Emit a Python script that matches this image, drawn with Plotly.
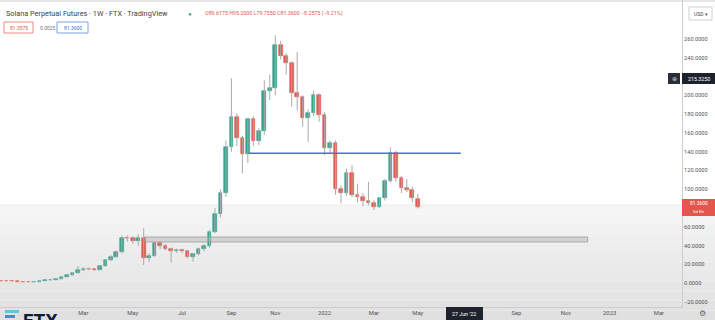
import plotly.graph_objects as go
import pandas as pd

# ---------------- data (weekly SOL-PERP candles) ----------------
week_start = pd.date_range("2020-11-16", "2022-05-02", freq="7D")

opens = [2.6, 2.4, 2.1, 2.0, 1.7, 1.6, 1.5, 1.7, 2.9, 3.4, 3.6, 4.5, 6.4, 8.8, 11.3,
         14.5, 15.2, 14.8, 14.2, 18.4, 24.8, 28.5, 33.6, 48.5, 47.8, 45.5, 48.0, 26.6, 29.4,
         42.5, 40.0, 37.0, 34.0, 35.5, 34.5, 28.3, 31.0, 37.0, 40.0, 55.0, 74.0, 95.7, 144.7,
         176.6, 155.0, 137.5, 174.5, 151.7, 162.0, 204.6, 208.0, 253.5, 241.8, 234.0, 202.8,
         198.5, 175.5, 181.5, 200.0, 179.0, 143.6, 149.6, 100.0, 96.0, 117.0, 94.0, 92.0,
         88.0, 85.7, 81.5, 90.4, 109.0, 138.3, 111.7, 101.0, 99.0, 89.6175]
highs = [2.9, 2.7, 2.4, 2.1, 1.9, 1.7, 1.8, 3.1, 3.8, 3.9, 4.8, 6.6, 9.3, 11.8, 18.4,
         17.0, 16.5, 16.0, 19.5, 25.5, 30.0, 35.0, 50.5, 51.0, 50.0, 52.0, 58.5, 32.0, 44.0,
         45.0, 42.0, 38.0, 37.0, 37.0, 35.0, 32.0, 38.0, 42.0, 57.0, 80.0, 100.0, 152.0, 218.0,
         181.0, 157.0, 176.0, 178.0, 165.0, 216.0, 222.0, 264.0, 258.0, 245.0, 236.0, 246.0,
         200.0, 185.0, 205.0, 202.0, 182.0, 152.0, 152.0, 104.0, 122.0, 126.0, 106.0, 96.0,
         108.0, 89.0, 92.0, 111.0, 144.7, 141.0, 114.0, 111.0, 103.0, 95.2]
lows = [2.2, 1.9, 1.8, 1.6, 1.5, 1.3, 1.4, 1.6, 2.8, 3.0, 3.4, 4.2, 6.0, 8.2, 10.5,
        13.2, 13.8, 13.5, 13.8, 17.5, 23.5, 27.0, 32.0, 44.0, 42.0, 40.0, 19.5, 22.5, 28.5,
        36.0, 35.0, 22.0, 32.5, 32.0, 27.0, 23.0, 29.5, 34.0, 38.0, 53.0, 70.0, 92.0, 140.0,
        146.0, 117.0, 128.0, 146.0, 147.0, 158.0, 195.0, 200.0, 238.0, 222.0, 188.0, 184.0,
        166.6, 150.6, 178.0, 172.0, 136.5, 138.0, 94.0, 85.0, 93.0, 92.0, 86.0, 82.0,
        83.0, 78.0, 80.0, 88.0, 107.0, 108.0, 96.0, 97.0, 86.0, 79.755]
closes = [2.4, 2.1, 2.0, 1.7, 1.6, 1.5, 1.7, 2.9, 3.4, 3.6, 4.5, 6.4, 8.8, 11.3, 14.5,
          15.2, 14.8, 14.2, 18.4, 24.8, 28.5, 33.6, 48.5, 47.8, 45.5, 48.0, 26.6, 29.4, 42.5,
          40.0, 37.0, 34.0, 35.5, 34.5, 28.3, 31.0, 37.0, 40.0, 55.0, 74.0, 95.7, 144.7, 176.6,
          155.0, 137.5, 174.5, 151.7, 162.0, 204.6, 208.0, 253.5, 241.8, 234.0, 202.8, 198.5,
          175.5, 181.5, 200.0, 179.0, 143.6, 149.6, 100.0, 96.0, 117.0, 94.0, 92.0, 88.0,
          85.7, 81.5, 90.4, 109.0, 138.3, 111.7, 101.0, 99.0, 90.5, 81.36]

x_tick_dates = ["2021-03-01", "2021-05-03", "2021-07-05", "2021-09-06", "2021-11-01",
                "2022-01-03", "2022-03-07", "2022-05-02", "2022-09-05", "2022-11-07",
                "2023-01-02", "2023-03-06"]
x_tick_text = ["Mar", "May", "Jul", "Sep", "Nov", "2022", "Mar", "May", "Sep", "Nov",
               "2023", "Mar"]
# 80 and 220 are hidden behind the last-price and crosshair tags in the reference
y_tick_vals = [-20, 0, 20, 40, 60, 100, 120, 140, 160, 180, 200, 240, 260]

support_level = 138.3
support_span = ["2021-09-28", "2022-06-26"]
zone_bounds = [43.9, 49.3]
zone_span = ["2021-05-18", "2022-12-05"]

title_text = "Solana Perpetual Futures · 1W · FTX · TradingView"
ohlc_text = "O89.6175 H95.2000 L79.7550 C81.3600 −8.2575 (−9.21%)"
bid_text, spread_text, ask_text = "81.3575", "0.0025", "81.3600"
last_price_text, countdown_text = "81.3600", "5d 6h"
cross_price_text, cross_date_text = "215.3250", "27 Jun '22"

# ---------------- styling ----------------
W, H = 715, 320
PLOT_R, PLOT_B = 682, 307          # plot area right / bottom edge in px
GREEN, RED, WICK = "#3aa38e", "#e2594d", "#a9a9a9"
FONT = "Roboto"


def px(xp):
    return xp / PLOT_R


def py(yp):
    return (PLOT_B - yp) / PLOT_B


fig = go.Figure()

# wicks
wx, wy = [], []
for d, h, l in zip(week_start, highs, lows):
    wx += [d, d, None]
    wy += [l, h, None]
fig.add_trace(go.Scatter(x=wx, y=wy, mode="lines", line=dict(color=WICK, width=1),
                         hoverinfo="skip", showlegend=False))

# bodies
cols = [GREEN if c >= o else RED for o, c in zip(opens, closes)]
fig.add_trace(go.Bar(
    x=week_start,
    y=[abs(c - o) for o, c in zip(opens, closes)],
    base=[min(o, c) for o, c in zip(opens, closes)],
    width=4.6 * 86400000,
    marker=dict(color=cols, line=dict(color=cols, width=0.6)),
    showlegend=False, hoverinfo="skip"))

shapes = []
# background gradient (lower part of the frame)
top_c, bot_c = (245, 245, 245), (224, 224, 224)
n = 12
y0p, y1p = 205, 320
for i in range(n):
    t = i / (n - 1)
    c = tuple(int(round(top_c[k] + (bot_c[k] - top_c[k]) * t)) for k in range(3))
    a = y0p + (y1p - y0p) * i / n
    b = y0p + (y1p - y0p) * (i + 1) / n
    shapes.append(dict(type="rect", xref="paper", yref="paper", x0=px(0), x1=px(W),
                       y0=py(b), y1=py(a), fillcolor="rgb(%d,%d,%d)" % c,
                       line=dict(width=0), layer="below"))
shapes.append(dict(type="line", xref="paper", yref="paper", x0=0, x1=px(W),
                   y0=py(205), y1=py(205), line=dict(color="#ececec", width=1), layer="below"))
# thin top frame line
shapes.append(dict(type="rect", xref="paper", yref="paper", x0=0, x1=px(W),
                   y0=py(2), y1=py(0), fillcolor="#e6e6e6", line=dict(width=0), layer="below"))

# horizontal zone and support line
shapes.append(dict(type="rect", xref="x", yref="y", x0=zone_span[0], x1=zone_span[1],
                   y0=zone_bounds[0], y1=zone_bounds[1],
                   fillcolor="rgba(175,175,175,0.45)",
                   line=dict(color="rgba(150,150,150,0.7)", width=1), layer="above"))
shapes.append(dict(type="line", xref="x", yref="y", x0=support_span[0], x1=support_span[1],
                   y0=support_level, y1=support_level,
                   line=dict(color="#4a6ee0", width=1.5), layer="above"))

# price axis tags
shapes.append(dict(type="rect", xref="paper", yref="paper", x0=px(682), x1=px(715),
                   y0=py(216), y1=py(199), fillcolor="#e2574c", line=dict(width=0)))
shapes.append(dict(type="rect", xref="paper", yref="paper", x0=px(682), x1=px(715),
                   y0=py(84), y1=py(73), fillcolor="#1e222d", line=dict(width=0)))
shapes.append(dict(type="rect", xref="paper", yref="paper", x0=px(668), x1=px(680),
                   y0=py(84), y1=py(73), fillcolor="#2a2e39", line=dict(width=0)))
shapes.append(dict(type="rect", xref="paper", yref="paper", x0=px(446), x1=px(483),
                   y0=py(320), y1=py(307), fillcolor="#1e222d", line=dict(width=0)))
# header boxes
shapes.append(dict(type="rect", xref="paper", yref="paper", x0=px(4), x1=px(33),
                   y0=py(33), y1=py(22), fillcolor="white", line=dict(color="#e88c85", width=1)))
shapes.append(dict(type="rect", xref="paper", yref="paper", x0=px(57), x1=px(88),
                   y0=py(33), y1=py(22), fillcolor="white", line=dict(color="#7ea2e3", width=1)))
shapes.append(dict(type="rect", xref="paper", yref="paper", x0=px(689), x1=px(712),
                   y0=py(20), y1=py(7), fillcolor="white", line=dict(color="#cfcfcf", width=1)))
# FTX logo stripes
shapes.append(dict(type="rect", xref="paper", yref="paper", x0=px(5), x1=px(19),
                   y0=py(313), y1=py(310), fillcolor="#5ec8e0", line=dict(width=0)))
shapes.append(dict(type="rect", xref="paper", yref="paper", x0=px(5), x1=px(15),
                   y0=py(318), y1=py(315), fillcolor="#3b8fd6", line=dict(width=0)))

ann = []


def text(x, y, s, size, color, xanchor="left", bold=False, yanchor="middle"):
    ann.append(dict(xref="paper", yref="paper", x=px(x), y=py(y), text=("<b>%s</b>" % s) if bold else s,
                    showarrow=False, xanchor=xanchor, yanchor=yanchor,
                    font=dict(family=FONT, size=size, color=color)))


text(4, 13, title_text, 7.3, "#3c3f48")
text(190, 13, "●", 6, "#26a69a", xanchor="center")
text(203, 13, ohlc_text, 5.3, "#e0574a")
text(18.5, 27.5, bid_text, 5.0, "#e0574a", xanchor="center")
text(38, 27.5, spread_text, 5.0, "#777777")
text(72.5, 27.5, ask_text, 5.0, "#3f73d0", xanchor="center")
text(700.5, 13.5, "USD ▾", 5.0, "#444444", xanchor="center")
text(698.5, 203.3, last_price_text, 4.9, "white", xanchor="center")
text(698.5, 211.6, countdown_text, 4.4, "white", xanchor="center")
text(698.5, 78.5, cross_price_text, 5.3, "white", xanchor="center")
text(674, 78.5, "⊕", 6, "#cfd2da", xanchor="center")
text(464.5, 313.5, cross_date_text, 5.3, "white", xanchor="center")
text(702, 313, "⚙", 8, "#666666", xanchor="center")
text(21, 307, "FTX", 19, "#0f1c38", bold=True, yanchor="top")

fig.update_layout(
    width=W, height=H,
    margin=dict(l=0, r=W - PLOT_R, t=0, b=H - PLOT_B),
    paper_bgcolor="white", plot_bgcolor="rgba(0,0,0,0)",
    showlegend=False, bargap=0,
    shapes=shapes, annotations=ann,
    font=dict(family=FONT),
    xaxis=dict(type="date", range=["2020-11-14 12:00", "2023-04-04 10:00"],
               tickvals=x_tick_dates, ticktext=x_tick_text,
               tickfont=dict(size=5.8, color="#555555"), ticks="", showgrid=False,
               zeroline=False, showline=True, linecolor="#cdcdcd", linewidth=1,
               rangeslider=dict(visible=False), fixedrange=True),
    yaxis=dict(side="right", range=[-25.2, 301.4], tickvals=y_tick_vals,
               tickformat=".4f", tickfont=dict(size=5.6, color="#555555"),
               ticks="", showgrid=False, zeroline=False, showline=True,
               linecolor="#cdcdcd", linewidth=1, fixedrange=True),
)

fig.write_html("out.html", config={"displayModeBar": False})
